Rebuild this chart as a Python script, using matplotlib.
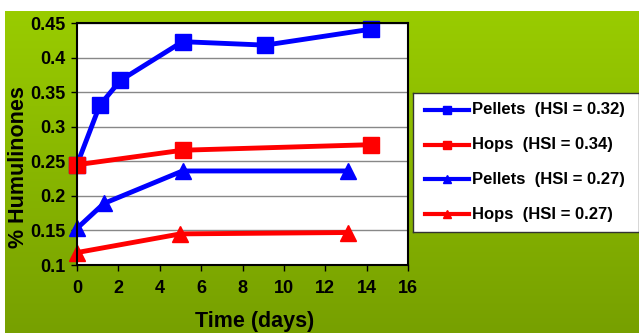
import numpy as np
import matplotlib.pyplot as plt
from matplotlib.colors import LinearSegmentedColormap

# days sampled and % humulinones for each hop form
pel32_days = [0, 1.1, 2.1, 5.1, 9.1, 14.2]
pel32_vals = [0.245, 0.331, 0.367, 0.423, 0.418, 0.441]
hop34_days = [0, 5.1, 14.2]
hop34_vals = [0.245, 0.266, 0.274]
pel27_days = [0, 1.3, 5.1, 13.1]
pel27_vals = [0.153, 0.189, 0.236, 0.236]
hop27_days = [0, 5.0, 13.1]
hop27_vals = [0.118, 0.145, 0.147]

labels = ['Pellets  (HSI = 0.32)', 'Hops  (HSI = 0.34)',
          'Pellets  (HSI = 0.27)', 'Hops  (HSI = 0.27)']

plt.rcParams['font.family'] = ['Liberation Sans', 'DejaVu Sans']
plt.rcParams['font.weight'] = 'bold'

fig = plt.figure(figsize=(6.39, 3.33), dpi=100)
W, H = 639, 333

# green gradient panel behind everything
bg = fig.add_axes([5 / W, 0, 1 - 5 / W, 1 - 11 / H], zorder=0)
grad = np.linspace(0, 1, 256).reshape(-1, 1)
cmap = LinearSegmentedColormap.from_list('g', ['#99cc00', '#77a000'])
bg.imshow(grad, aspect='auto', cmap=cmap, extent=[0, 1, 0, 1])
bg.axis('off')

ax = fig.add_axes([77 / W, 1 - 265 / H, (408 - 77) / W, (265 - 23) / H], zorder=1)
ax.set_facecolor('white')

lw = 3.5
ax.plot(pel32_days, pel32_vals, color='#0000ff', lw=lw, marker='s', ms=11, clip_on=False)
ax.plot(hop34_days, hop34_vals, color='#ff0000', lw=lw, marker='s', ms=11, clip_on=False)
ax.plot(pel27_days, pel27_vals, color='#0000ff', lw=lw, marker='^', ms=12, clip_on=False)
ax.plot(hop27_days, hop27_vals, color='#ff0000', lw=lw, marker='^', ms=12, clip_on=False)

ax.set_xlim(0, 16)
ax.set_ylim(0.1, 0.45)
ax.set_xticks(np.arange(0, 17, 2))
ax.set_yticks([0.1, 0.15, 0.2, 0.25, 0.3, 0.35, 0.4, 0.45])
ax.set_yticklabels(['0.1', '0.15', '0.2', '0.25', '0.3', '0.35', '0.4', '0.45'])
ax.grid(axis='y', color='#888888', lw=1)
ax.set_axisbelow(True)
for s in ax.spines.values():
    s.set_color('black')
    s.set_linewidth(1.5)
ax.tick_params(labelsize=13, length=4, width=1, colors='black')
ax.tick_params(axis='x', pad=7)
ax.tick_params(axis='y', pad=4)
for t in ax.get_xticklabels() + ax.get_yticklabels():
    t.set_fontweight('bold')

ax.set_xlabel('Time (days)', fontsize=15.5, fontweight='bold', va='center')
ax.xaxis.set_label_coords((255 - 77) / 331, -(322 - 265) / 242)
ax.set_ylabel('% Humulinones', fontsize=15.5, fontweight='bold', va='center')
ax.yaxis.set_label_coords((18 - 77) / 331, (265 - 167) / 242)

# legend panel on the right
lax = fig.add_axes([413 / W, 1 - 232 / H, (639 - 413) / W, (232 - 93) / H], zorder=1)
lax.set_xlim(0, 1)
lax.set_ylim(0, 1)
lax.set_xticks([])
lax.set_yticks([])
for s in lax.spines.values():
    s.set_color('#333333')
    s.set_linewidth(1)
styles = [('#0000ff', 's'), ('#ff0000', 's'), ('#0000ff', '^'), ('#ff0000', '^')]
for i, ((c, m), lab) in enumerate(zip(styles, labels)):
    y = 0.878 - i * 0.25
    lax.plot([0.053, 0.248], [y, y], color=c, lw=3)
    lax.plot([0.15], [y], color=c, marker=m, ms=6)
    lax.text(0.26, y, lab, fontsize=12, fontweight='bold', va='center', ha='left')

fig.savefig('out.png', dpi=100)
